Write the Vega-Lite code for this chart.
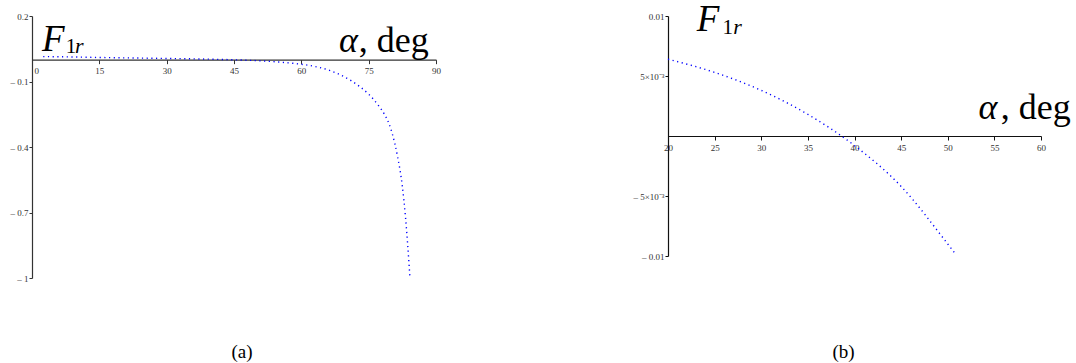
{
  "$schema": "https://vega.github.io/schema/vega-lite/v6.json",
  "autosize": {"type": "pad"},
  "padding": {"left": 8, "top": 0, "right": 0, "bottom": 0},
  "bounds": "flush",
  "spacing": 232,
  "background": "white",
  "config": {
    "view": {"stroke": null},
    "font": "Liberation Serif",
    "title": {"font": "Liberation Serif"},
    "axis": {
      "grid": false,
      "title": null,
      "domainColor": "#333333",
      "tickColor": "#333333",
      "labelColor": "#333333",
      "labelFont": "Liberation Serif",
      "labelFontSize": 9,
      "domainWidth": 1.2,
      "tickWidth": 1
    },
    "text": {"font": "Liberation Serif", "color": "black"}
  },
  "datasets": {
    "a": [
      {"alpha": 2.5, "F1r": 0.014},
      {"alpha": 5, "F1r": 0.0135},
      {"alpha": 10, "F1r": 0.012},
      {"alpha": 15, "F1r": 0.010},
      {"alpha": 20, "F1r": 0.0085},
      {"alpha": 25, "F1r": 0.007},
      {"alpha": 30, "F1r": 0.0055},
      {"alpha": 35, "F1r": 0.004},
      {"alpha": 40, "F1r": 0.002},
      {"alpha": 45, "F1r": -0.0005},
      {"alpha": 50, "F1r": -0.0045},
      {"alpha": 55, "F1r": -0.011},
      {"alpha": 60, "F1r": -0.021},
      {"alpha": 63, "F1r": -0.031},
      {"alpha": 66, "F1r": -0.047},
      {"alpha": 68.5, "F1r": -0.068},
      {"alpha": 71, "F1r": -0.095},
      {"alpha": 73, "F1r": -0.123},
      {"alpha": 75, "F1r": -0.158},
      {"alpha": 77, "F1r": -0.205},
      {"alpha": 78.5, "F1r": -0.25},
      {"alpha": 79.5, "F1r": -0.292},
      {"alpha": 80.2, "F1r": -0.335},
      {"alpha": 81.4, "F1r": -0.44},
      {"alpha": 82.5, "F1r": -0.58},
      {"alpha": 83.2, "F1r": -0.72},
      {"alpha": 83.7, "F1r": -0.85},
      {"alpha": 84.2, "F1r": -1.0}
    ],
    "b": [
      {"alpha": 20, "F1r": 0.0064},
      {"alpha": 25, "F1r": 0.0053},
      {"alpha": 30, "F1r": 0.0038},
      {"alpha": 35, "F1r": 0.0018},
      {"alpha": 40, "F1r": -0.0008},
      {"alpha": 45, "F1r": -0.0042},
      {"alpha": 50, "F1r": -0.009},
      {"alpha": 50.9, "F1r": -0.0099}
    ]
  },
  "hconcat": [
    {
      "width": 404,
      "height": 262,
      "title": {"text": "(a)", "orient": "bottom", "frame": "group", "anchor": "middle", "font": "Liberation Serif", "fontSize": 19, "fontWeight": "normal", "color": "black", "offset": 60, "dx": 8},
      "layer": [
        {
          "data": {"name": "a"},
          "mark": {"type": "line", "color": "#0000ff", "strokeDash": [1.2, 3.5], "strokeWidth": 1.4, "interpolate": "monotone"},
          "encoding": {
            "x": {"field": "alpha", "type": "quantitative", "scale": {"domain": [0, 90], "nice": false, "zero": false},
                  "axis": {"values": [0, 15, 30, 45, 60, 75, 90], "offset": -218.33, "tickSize": 4, "labelPadding": 3, "labelFlush": false, "labelOverlap": false,
                           "labelAlign": {"condition": {"test": "datum.value == 0", "value": "left"}, "value": "center"},
                           "labelOffset": {"condition": {"test": "datum.value == 0", "value": 2}, "value": 0}}},
            "y": {"field": "F1r", "type": "quantitative", "scale": {"domain": [-1, 0.2], "nice": false, "zero": false},
                  "axis": {"values": [0.2, -0.1, -0.4, -0.7, -1], "tickSize": 3, "labelPadding": 1, "minExtent": 24, "maxExtent": 24, "labelFlush": false, "labelOverlap": false,
                           "labelExpr": "datum.value < 0 ? '– ' + format(-datum.value, '') : format(datum.value, '')"}}
          }
        },
        {
          "data": {"values": [{}]},
          "mark": {"type": "text", "text": "F", "fontStyle": "italic", "fontSize": 37, "align": "left", "baseline": "alphabetic"},
          "encoding": {"x": {"datum": 2.2, "type": "quantitative"}, "y": {"datum": 0.038, "type": "quantitative"}}
        },
        {
          "data": {"values": [{}]},
          "mark": {"type": "text", "text": "1", "fontSize": 21, "align": "left", "baseline": "alphabetic"},
          "encoding": {"x": {"datum": 7.5, "type": "quantitative"}, "y": {"datum": 0.031, "type": "quantitative"}}
        },
        {
          "data": {"values": [{}]},
          "mark": {"type": "text", "text": "r", "fontStyle": "italic", "fontSize": 22, "align": "left", "baseline": "alphabetic"},
          "encoding": {"x": {"datum": 9.6, "type": "quantitative"}, "y": {"datum": 0.031, "type": "quantitative"}}
        },
        {
          "data": {"values": [{}]},
          "mark": {"type": "text", "text": "α", "fontStyle": "italic", "fontSize": 36, "align": "left", "baseline": "alphabetic"},
          "encoding": {"x": {"datum": 68.4, "type": "quantitative"}, "y": {"datum": 0.034, "type": "quantitative"}}
        },
        {
          "data": {"values": [{}]},
          "mark": {"type": "text", "text": ", deg", "fontSize": 36, "align": "right", "baseline": "alphabetic"},
          "encoding": {"x": {"datum": 88.4, "type": "quantitative"}, "y": {"datum": 0.034, "type": "quantitative"}}
        }
      ]
    },
    {
      "width": 373,
      "height": 240,
      "title": {"text": "(b)", "orient": "bottom", "frame": "group", "anchor": "middle", "font": "Liberation Serif", "fontSize": 19, "fontWeight": "normal", "color": "black", "offset": 82, "dx": -11},
      "layer": [
        {
          "data": {"name": "b"},
          "mark": {"type": "line", "color": "#0000ff", "strokeDash": [1.2, 3.5], "strokeWidth": 1.4, "interpolate": "monotone"},
          "encoding": {
            "x": {"field": "alpha", "type": "quantitative", "scale": {"domain": [20, 60], "nice": false, "zero": false},
                  "axis": {"values": [20, 25, 30, 35, 40, 45, 50, 55, 60], "offset": -120, "tickSize": 4, "labelPadding": 3, "labelFlush": false, "labelOverlap": false, "domainColor": "#111111", "tickColor": "#111111"}},
            "y": {"field": "F1r", "type": "quantitative", "scale": {"domain": [-0.01, 0.01], "nice": false, "zero": false},
                  "axis": {"values": [0.01, 0.005, -0.005, -0.01], "tickSize": 3, "labelPadding": 1, "labelFlush": false, "labelOverlap": false, "domainColor": "#111111", "tickColor": "#111111",
                           "labelExpr": "datum.value > 0.007 ? '0.01' : datum.value > 0 ? '5×10⁻³' : datum.value > -0.007 ? '– 5×10⁻³' : '– 0.01'"}}
          }
        },
        {
          "data": {"values": [{}]},
          "mark": {"type": "text", "text": "F", "fontStyle": "italic", "fontSize": 37, "align": "left", "baseline": "alphabetic"},
          "encoding": {"x": {"datum": 23.08, "type": "quantitative"}, "y": {"datum": 0.00878, "type": "quantitative"}}
        },
        {
          "data": {"values": [{}]},
          "mark": {"type": "text", "text": "1", "fontSize": 21, "align": "left", "baseline": "alphabetic"},
          "encoding": {"x": {"datum": 25.85, "type": "quantitative"}, "y": {"datum": 0.00853, "type": "quantitative"}}
        },
        {
          "data": {"values": [{}]},
          "mark": {"type": "text", "text": "r", "fontStyle": "italic", "fontSize": 22, "align": "left", "baseline": "alphabetic"},
          "encoding": {"x": {"datum": 27.0, "type": "quantitative"}, "y": {"datum": 0.00853, "type": "quantitative"}}
        },
        {
          "data": {"values": [{}]},
          "mark": {"type": "text", "text": "α", "fontStyle": "italic", "fontSize": 36, "align": "left", "baseline": "alphabetic"},
          "encoding": {"x": {"datum": 53.3, "type": "quantitative"}, "y": {"datum": 0.00138, "type": "quantitative"}}
        },
        {
          "data": {"values": [{}]},
          "mark": {"type": "text", "text": ", deg", "fontSize": 36, "align": "right", "baseline": "alphabetic"},
          "encoding": {"x": {"datum": 63.2, "type": "quantitative"}, "y": {"datum": 0.00138, "type": "quantitative"}}
        }
      ]
    }
  ]
}
